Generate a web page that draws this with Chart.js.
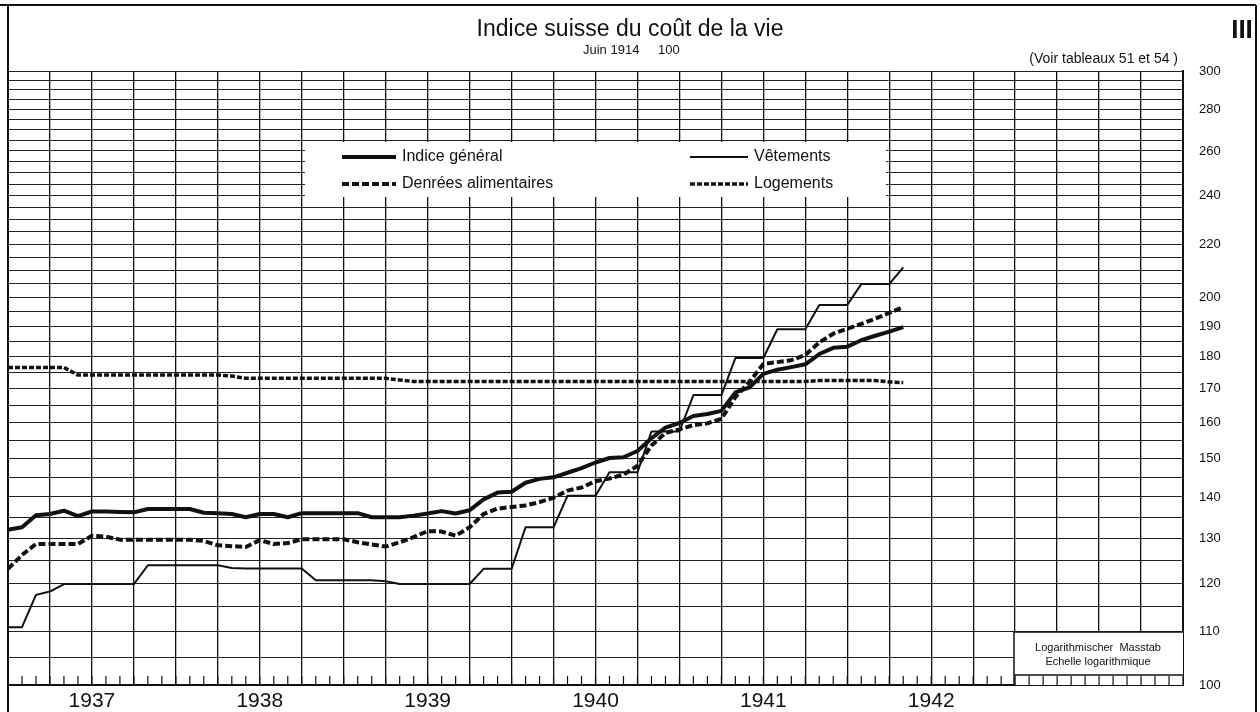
<!DOCTYPE html>
<html>
<head>
<meta charset="utf-8">
<script src="https://cdn.jsdelivr.net/npm/chart.js@4"></script>
<style>
  html, body { margin: 0; padding: 0; background: #fff; }
  #wrap { width: 1260px; height: 712px; }
</style>
</head>
<body>
<div id="wrap"><canvas id="chart"></canvas></div>
<script>
// month labels, Jan 1937 .. Jan 1944
let months = [];
for (let y = 1937; y <= 1943; y++) {
    for (let m = 1; m <= 12; m++) months.push(y + '-' + String(m).padStart(2, '0'));
}
months.push('1944-01');

const years = ['1937', '1938', '1939', '1940', '1941', '1942'];
const yLabels = [100, 110, 120, 130, 140, 150, 160, 170, 180, 190, 200, 220, 240, 260, 280, 300];

// index values, June 1914 = 100, one per month from Jan 1937
const general = [132.0, 132.6, 135.5, 135.8, 136.6, 135.3, 136.4, 136.4, 136.3, 136.2,
    137.0, 137.0, 137.0, 137.0, 136.1, 136.0, 135.8, 135.0, 135.8, 135.8,
    135.0, 136.0, 136.0, 136.0, 136.0, 136.0, 135.0, 135.0, 135.0, 135.4,
    135.9, 136.5, 135.9, 136.7, 139.4, 141.1, 141.3, 143.6, 144.6, 145.0,
    146.2, 147.4, 148.9, 150.1, 150.3, 152.0, 155.5, 158.5, 159.8, 161.8,
    162.4, 163.3, 168.8, 170.3, 174.5, 175.8, 176.6, 177.5, 180.8, 182.8,
    183.2, 185.3, 186.8, 188.2, 189.7];
const food = [123.1, 126.2, 128.7, 128.7, 128.7, 128.7, 130.6, 130.4, 129.7, 129.7,
    129.7, 129.7, 129.7, 129.7, 129.4, 128.4, 128.2, 128.0, 129.6, 128.7,
    128.9, 129.8, 129.8, 129.8, 129.8, 129.1, 128.6, 128.1, 129.1, 130.3,
    131.7, 131.6, 130.6, 132.6, 135.8, 137.1, 137.5, 137.9, 138.7, 139.8,
    141.6, 142.4, 144.0, 144.7, 145.7, 148.0, 153.5, 157.0, 158.0, 159.2,
    159.7, 161.0, 167.4, 172.0, 177.6, 178.2, 178.8, 180.5, 184.6, 187.5,
    189.2, 190.8, 192.6, 194.6, 196.6];
const clothing = [110.9, 110.9, 117.5, 118.2, 119.8, 119.8, 119.8, 119.8, 119.8, 119.8,
    123.9, 123.9, 123.9, 123.9, 123.9, 123.9, 123.3, 123.2, 123.2, 123.2,
    123.2, 123.2, 120.6, 120.6, 120.6, 120.6, 120.6, 120.4, 119.8, 119.8,
    119.8, 119.8, 119.8, 119.8, 123.1, 123.1, 123.1, 132.6, 132.6, 132.6,
    140.3, 140.3, 140.3, 146.3, 146.3, 146.3, 157.4, 157.4, 157.4, 168.0,
    168.0, 168.0, 179.5, 179.5, 179.5, 189.0, 189.0, 189.0, 197.4, 197.4,
    197.4, 204.9, 204.9, 204.9, 211.1];
const housing = [176.5, 176.5, 176.5, 176.5, 176.5, 174.1, 174.1, 174.1, 174.1, 174.1,
    174.1, 174.1, 174.1, 174.1, 174.1, 174.1, 173.8, 173.1, 173.1, 173.1,
    173.1, 173.1, 173.1, 173.1, 173.1, 173.1, 173.1, 173.1, 172.6, 172.1,
    172.1, 172.1, 172.1, 172.1, 172.1, 172.1, 172.1, 172.1, 172.1, 172.1,
    172.1, 172.1, 172.1, 172.1, 172.1, 172.1, 172.1, 172.1, 172.1, 172.1,
    172.1, 172.1, 172.1, 172.1, 172.1, 172.1, 172.1, 172.1, 172.4, 172.4,
    172.4, 172.4, 172.4, 172.0, 171.8];

// grid every 5 points
let gridValues = [];
for (let v = 100; v <= 300; v += 5) gridValues.push(v);

const INK = '#111';
Chart.defaults.font.family = '"Liberation Sans", Arial, sans-serif';
Chart.defaults.color = INK;

function line(ctx, x1, y1, x2, y2, w) {
    ctx.beginPath();
    ctx.lineWidth = w;
    ctx.moveTo(x1, y1);
    ctx.lineTo(x2, y2);
    ctx.stroke();
}

// legend in a white box, two columns
const legendSlots = [[342, 157], [342, 184], [690, 157], [690, 184]];

const decorations = {
    id: 'decorations',
    beforeDatasetsDraw(chart) {
        const ctx = chart.ctx;
        const a = chart.chartArea;
        ctx.save();
        ctx.fillStyle = '#fff';
        ctx.strokeStyle = INK;
        // legend box
        ctx.fillRect(305, 142, 581, 55);
        // scale note box
        ctx.fillRect(1014, 632, a.right - 1014, a.bottom - 632);
        line(ctx, 1014, 632, 1014, a.bottom, 1.5);
        line(ctx, 1014, 632, a.right, 632, 1.5);
        line(ctx, 1014, 675, a.right, 675, 1.5);
        ctx.fillStyle = INK;
        ctx.font = '11px "Liberation Sans", Arial, sans-serif';
        ctx.textAlign = 'center';
        ctx.textBaseline = 'middle';
        ctx.fillText('Logarithmischer  Masstab', 1098, 648);
        ctx.fillText('Echelle logarithmique', 1098, 662);

        ctx.font = '16px "Liberation Sans", Arial, sans-serif';
        ctx.textAlign = 'left';
        chart.data.datasets.forEach((ds, i) => {
            const [x, y] = legendSlots[i];
            const len = i < 2 ? 54 : 58;
            ctx.setLineDash(ds.borderDash || []);
            line(ctx, x, y, x + len, y, ds.borderWidth);
            ctx.setLineDash([]);
            ctx.fillText(ds.label, x + len + 6, y);
        });
        ctx.restore();
    },
    afterDraw(chart) {
        const ctx = chart.ctx;
        const a = chart.chartArea;
        const xs = chart.scales.x;
        ctx.save();
        ctx.strokeStyle = INK;
        // monthly ticks along the base line
        for (let i = 0; i < months.length; i++) {
            const x = xs.getPixelForValue(i);
            line(ctx, x, a.bottom, x, a.bottom - 9, 1.2);
        }
        // frame
        line(ctx, 0, 5, 1256, 5, 2);
        line(ctx, 1256, 5, 1256, 712, 2);
        line(ctx, a.left, 5, a.left, 712, 2);

        ctx.fillStyle = INK;
        ctx.textBaseline = 'middle';
        ctx.textAlign = 'center';
        ctx.font = '23px "Liberation Sans", Arial, sans-serif';
        ctx.fillText('Indice suisse du coût de la vie', 630, 30);
        ctx.font = 'bold 26px "Liberation Sans", Arial, sans-serif';
        ctx.fillText('III', 1242, 31);
        ctx.textAlign = 'left';
        ctx.font = '13px "Liberation Sans", Arial, sans-serif';
        ctx.fillText('Juin 1914', 583, 50);
        ctx.fillText('100', 658, 50);
        ctx.textAlign = 'right';
        ctx.font = '14px "Liberation Sans", Arial, sans-serif';
        ctx.fillText('(Voir tableaux 51 et 54 )', 1178, 59);
        ctx.restore();
    }
};

const ctx = document.getElementById('chart').getContext('2d');
const chart = new Chart(ctx, {
    type: 'line',
    data: {
        labels: months,
        datasets: [
            { label: 'Indice général', data: general, borderColor: INK, borderWidth: 4 },
            { label: 'Denrées alimentaires', data: food, borderColor: INK, borderWidth: 4, borderDash: [7, 3] },
            { label: 'Vêtements', data: clothing, borderColor: INK, borderWidth: 2 },
            { label: 'Logements', data: housing, borderColor: INK, borderWidth: 3.5, borderDash: [5, 2] }
        ]
    },
    options: {
        responsive: true,
        maintainAspectRatio: false,
        animation: false,
        devicePixelRatio: 1,
        layout: { padding: { left: 8, top: 71, right: 0, bottom: 0 } },
        elements: {
            point: { radius: 0 },
            line: { tension: 0, borderCapStyle: 'butt', borderJoinStyle: 'round' }
        },
        plugins: {
            legend: { display: false },
            tooltip: { enabled: false }
        },
        scales: {
            x: {
                type: 'category',
                offset: false,
                grid: {
                    color: c => c.index % 3 === 0 ? INK : 'transparent',
                    lineWidth: 1.3,
                    drawTicks: false
                },
                border: { color: INK, width: 2 },
                ticks: {
                    autoSkip: false,
                    maxRotation: 0,
                    padding: 4,
                    font: { size: 21 },
                    callback: (v, i) => (i % 12 === 6 && years[(i - 6) / 12]) ? years[(i - 6) / 12] : ''
                },
                afterFit: s => { s.height = 27; }
            },
            y: {
                type: 'logarithmic',
                position: 'right',
                min: 100,
                max: 300,
                afterBuildTicks: s => { s.ticks = gridValues.map(v => ({ value: v })); },
                grid: { color: '#222', lineWidth: 1, drawTicks: false },
                border: { color: INK, width: 2 },
                ticks: {
                    autoSkip: false,
                    padding: 16,
                    font: { size: 13 },
                    callback: v => yLabels.includes(v) ? String(v) : ''
                },
                afterFit: s => { s.width = 77; }
            }
        }
    },
    plugins: [decorations]
});
</script>
</body>
</html>
